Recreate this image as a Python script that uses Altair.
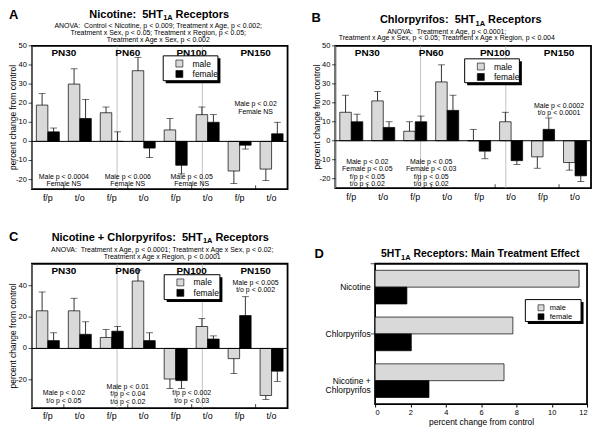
import altair as alt
import pandas as pd

sections = ["PN30", "PN60", "PN100", "PN150"]
regions = ["f/p", "t/o"]
sexes = ["male", "female"]
treatments = ["Nicotine", "Chlorpyrifos", "Nicotine + Chlorpyrifos"]

# order: PN30 f/p, PN30 t/o, PN60 f/p, PN60 t/o, PN100 f/p, PN100 t/o, PN150 f/p, PN150 t/o
a_male = [19, 30, 15, 37, 6, 14, -15.5, -14.5]
a_male_err = [6, 8, 3, 7, 6, 4, 6.5, 6]
a_female = [5, 12, 0, -3.5, -12.5, 10, -2, 4]
a_female_err = [2, 10, 5, 5, 4.5, 4, 2, 6]

b_male = [15, 21, 5, 31, 0, 10, -8.5, -11.5]
b_male_err = [9, 5, 5, 9, 6, 5, 6, 4]
b_female = [10, 7, 10, 16, -5.5, -10.5, 6, -18.5]
b_female_err = [4, 3, 3, 8, 4, 2, 6, 3]

c_male = [24, 24, 7, 43, -19.5, 14, -6.5, -30]
c_male_err = [12, 8, 5, 7, 6, 5, 9.5, 2.5]
c_female = [5, 9, 11, 5, -20.5, 6, 21, -14.5]
c_female_err = [5, 8, 3, 5, 5, 2, 12, 6.5]

d_male = [11.55, 7.8, 7.3]
d_female = [1.8, 2.05, 3.05]

ab_yticks = [-20, -10, 0, 10, 20, 30, 40, 50]
c_yticks = [-20, 0, 20, 40]
d_xticks = [0, 2, 4, 6, 8, 10, 12]

a_notes = [("PN30", "Male p < 0.0004\nFemale NS", -16.5),
           ("PN60", "Male p < 0.006\nFemale NS", -16.5),
           ("PN100", "Male p < 0.05\nFemale NS", -16.5),
           ("PN150", "Male p < 0.02\nFemale NS", 21.5)]
b_notes = [("PN30", "Male p < 0.02\nFemale p < 0.05\nf/p p < 0.05\nt/o p < 0.02", -9),
           ("PN60", "Male p < 0.05\nFemale p < 0.03\nf/p p < 0.05\nt/o p < 0.02", -9),
           ("PN150", "Male p < 0.0002\nt/o p < 0.0001", 20.5)]
c_notes = [("PN30", "Male p < 0.02\nt/o p < 0.05", -26),
           ("PN60", "Male p < 0.01\nf/p p < 0.04\nt/o p < 0.02", -21.8),
           ("PN100", "f/p p < 0.002\nt/o p < 0.03", -26),
           ("PN150", "Male p < 0.005\nt/o p < 0.002", 44.5)]

NB = "\u00a0"
a_anova = ["ANOVA:" + NB + NB + "Control < Nicotine, p < 0.009; Treatment x Age, p < 0.002;",
           "Treatment x Sex, p < 0.05; Treatment x Region, p < 0.05;",
           "Treatment x Age x Sex, p < 0.002"]
b_anova = ["ANOVA:" + NB + NB + "Treatment x Age, p < 0.0001;",
           "Treatment x Age x Sex, p < 0.05; Treatment x Age x Region, p < 0.004"]
c_anova = ["ANOVA:" + NB + NB + "Treatment x Age, p < 0.0001; Treatment x Age x Sex, p < 0.02;",
           "Treatment x Age x Region, p < 0.0001"]

FONT = "Liberation Sans"
MALE_FILL = "#d9d9d9"
YT = "percent change from control"
SUB_GAP = 3.2

BOLD = {" ": 278, NB: 278, "+": 584, ":": 333, "1": 556, "5": 556, "A": 722, "C": 722,
        "E": 667, "H": 722, "M": 833, "N": 722, "R": 722, "T": 611, "a": 556, "c": 556,
        "e": 556, "f": 333, "h": 611, "i": 278, "l": 278, "m": 889, "n": 611, "o": 611,
        "p": 611, "r": 389, "s": 556, "t": 333, "y": 556}


def bold_w(s, size):
    return sum(BOLD.get(ch, 600) for ch in s) * size / 1000.0


ONE = pd.DataFrame({"k": [0]})


def txt(text, x, y, size, bold=False, align="center", baseline="alphabetic", angle=0):
    return alt.Chart(ONE).mark_text(
        text=text, fontSize=size, fontWeight="bold" if bold else "normal",
        align=align, baseline=baseline, color="black", font=FONT, angle=angle
    ).encode(x=alt.value(x), y=alt.value(y))


def title_parts(cx, base_y, main, rest, size, sub_size=7.5):
    w1 = bold_w(main, size)
    w2 = bold_w("1A", sub_size)
    w3 = bold_w(rest, size)
    total = w1 + w2 + SUB_GAP + w3
    xa = cx - total / 2 + w1
    return [txt(main, xa, base_y, size, True, "right"),
            txt("1A", xa + 0.3, base_y + 2.5, sub_size, True, "left"),
            txt(rest, xa + w2 + SUB_GAP, base_y, size, True, "left")]


def fill_enc(lx, ly, small=False):
    if small:
        extra = dict(legendX=lx + 12, legendY=ly + 4.5, padding=0, symbolSize=36,
                     labelFontSize=7.5, labelOffset=5, rowPadding=0)
    else:
        extra = dict(legendX=lx + 12, legendY=ly + 3.5, padding=0, symbolSize=49,
                     labelFontSize=8.5, labelOffset=9, rowPadding=0.5)
    return alt.Fill("sex:N", sort=sexes,
                    scale=alt.Scale(domain=sexes, range=[MALE_FILL, "black"]),
                    legend=alt.Legend(title=None, orient="none", symbolType="square",
                                      symbolStrokeColor="black", symbolStrokeWidth=0.6,
                                      labelFont=FONT, labelColor="black", **extra))


def legend_box(lx, ly, lw, lh):
    sh = alt.Chart(ONE).mark_rect(color="black").encode(
        x=alt.value(lx + 2.5), x2=alt.value(lx + 2.5 + lw),
        y=alt.value(ly + 2.5), y2=alt.value(ly + 2.5 + lh))
    bx = alt.Chart(ONE).mark_rect(fill="white", stroke="black", strokeWidth=1).encode(
        x=alt.value(lx), x2=alt.value(lx + lw), y=alt.value(ly), y2=alt.value(ly + lh))
    return [sh, bx]


def bar_frame(male, male_err, female, female_err):
    rows = []
    i = 0
    for s in sections:
        for r in regions:
            for sex, vals, errs in (("male", male, male_err), ("female", female, female_err)):
                v = vals[i]
                e = errs[i]
                end = v + e if v >= 0 else v - e
                rows.append(dict(group=f"{s}|{r}", section=s, sex=sex, value=v, err_end=end))
            i += 1
    return pd.DataFrame(rows)


def panel(male, male_err, female, female_err, ydom, yvals, w, h, notes, leg,
          letter, letter_xy, title_main, title_xy, anova, anova_x, anova_y):
    df = bar_frame(male, male_err, female, female_err)
    groups = [f"{s}|{r}" for s in sections for r in regions]
    xenc = alt.X("group:N", sort=groups,
                 scale=alt.Scale(paddingInner=0.28, paddingOuter=0.14),
                 axis=alt.Axis(title=None, labelExpr="split(datum.label, '|')[1]",
                               labelAngle=0, ticks=False, domain=False,
                               labelFontSize=9, labelPadding=4))
    xoff = alt.XOffset("sex:N", sort=sexes)
    yscale = alt.Scale(domain=ydom, nice=False, zero=False)
    base = alt.Chart(df)
    bars = base.mark_bar(stroke="black", strokeWidth=0.7).encode(
        x=xenc, xOffset=xoff, y=alt.Y("value:Q", scale=yscale, axis=None),
        fill=fill_enc(leg[0], leg[1]))
    whisk = base.mark_rule(color="black", strokeWidth=0.8).encode(
        x=xenc, xOffset=xoff, y=alt.Y("value:Q", axis=None), y2="err_end:Q")
    caps = base.mark_tick(color="black", thickness=0.8, size=7).encode(
        x=xenc, xOffset=xoff, y=alt.Y("err_end:Q", axis=None))
    zero = alt.Chart(ONE).mark_rule(color="black", strokeWidth=1).encode(
        y=alt.datum(0, type="quantitative", axis=None))
    # y axis: tick labels and ticks placed through the y scale
    ytick_df = pd.DataFrame({"tick": yvals, "label": [str(v) for v in yvals]})
    ylabels = alt.Chart(ytick_df).mark_text(align="right", baseline="middle", fontSize=7.5,
                                            color="black", font=FONT).encode(
        x=alt.value(-5), y=alt.Y("tick:Q", axis=None), text="label:N")
    ytickmarks = alt.Chart(ytick_df).mark_tick(orient="horizontal", size=3.5, thickness=1,
                                               color="black").encode(
        x=alt.value(-1.6), y=alt.Y("tick:Q", axis=None))
    data_layer = alt.layer(bars, whisk, caps, zero, ylabels, ytickmarks)

    sec_df = pd.DataFrame({"section": sections})
    sec_x = alt.X("section:N", sort=sections,
                  scale=alt.Scale(paddingInner=0, paddingOuter=0), axis=None)
    dividers = alt.Chart(sec_df).transform_filter(
        alt.datum.section != sections[0]).mark_rule(color="#b5b5b5", strokeWidth=0.8).encode(
        x=alt.X("section:N", sort=sections, bandPosition=0,
                scale=alt.Scale(paddingInner=0, paddingOuter=0), axis=None))
    heads = alt.Chart(sec_df).mark_text(fontSize=10, fontWeight="bold", baseline="middle",
                                        color="black", font=FONT).encode(
        x=sec_x, y=alt.value(7), text="section:N")
    xticks = alt.Chart(sec_df).mark_tick(orient="vertical", size=4, thickness=1,
                                         color="black").encode(
        x=sec_x, y=alt.value(h - 2))
    note_df = pd.DataFrame(notes, columns=["section", "label", "ytop"])
    note_txt = alt.Chart(note_df).mark_text(fontSize=7, baseline="top", lineBreak="\n",
                                            lineHeight=7.5, color="black", font=FONT).encode(
        x=sec_x, y=alt.Y("ytop:Q", axis=None), text="label:N")
    deco = alt.layer(heads, xticks, note_txt)

    extras = legend_box(*leg)
    extras.append(txt(letter, letter_xy[0], letter_xy[1], 13, True, "left", "middle"))
    extras += title_parts(title_xy[0], title_xy[1], title_main, "Receptors", 11)
    for k, line in enumerate(anova):
        extras.append(txt(line, anova_x, anova_y[k], 7, False, "center", "middle"))
    extras.append(txt(YT, -18.5, h / 2, 8.5, False, "center", "middle", angle=270))

    return alt.layer(dividers, data_layer, deco, *extras).resolve_scale(
        x="independent").properties(width=w, height=h)


A = panel(a_male, a_male_err, a_female, a_female_err, [-25, 50], ab_yticks,
          257, 144, a_notes, (132, 10, 55, 25), "A", (-23, -31.5),
          "Nicotine:" + NB + NB + "5HT", (128, -28.5), a_anova, 127, [-20, -13, -6])
B = panel(b_male, b_male_err, b_female, b_female_err, [-25, 50], ab_yticks,
          257, 143, b_notes, (130, 13, 55, 24), "B", (-24, -28),
          "Chlorpyrifos:" + NB + NB + "5HT", (126, -22.5), b_anova, 112, [-14, -8])
C = panel(c_male, c_male_err, c_female, c_female_err, [-38, 54], c_yticks,
          257, 145, c_notes, (133, 11, 56, 25), "C", (-23, -27),
          "Nicotine + Chlorpyrifos:" + NB + NB + "5HT", (129, -23), c_anova, 131, [-14, -7])

# Panel D
d_df = pd.DataFrame([dict(treatment=t, sex=s, value=v)
                     for t, m, f in zip(treatments, d_male, d_female)
                     for s, v in (("male", m), ("female", f))])
d_bars = alt.Chart(d_df).mark_bar(stroke="black", strokeWidth=0.7).encode(
    y=alt.Y("treatment:N", sort=treatments,
            scale=alt.Scale(paddingInner=0.28, paddingOuter=0.14),
            axis=alt.Axis(title=None, ticks=False, domain=False, labelFontSize=8.5,
                          labelPadding=5, labelLineHeight=9,
                          labelExpr="datum.value == 'Nicotine + Chlorpyrifos' ? ['Nicotine +', 'Chlorpyrifos'] : datum.label")),
    yOffset=alt.YOffset("sex:N", sort=sexes),
    x=alt.X("value:Q", scale=alt.Scale(domain=[0, 12], nice=False),
            axis=alt.Axis(values=d_xticks, title=YT, titleFontSize=8.5,
                          titleFontWeight="normal", labelFontSize=7.5, tickSize=3,
                          domain=False, titlePadding=1, grid=False)),
    fill=fill_enc(151, 36, small=True))
d_sep = alt.Chart(pd.DataFrame({"treatment": treatments})).transform_filter(
    alt.datum.treatment != treatments[0]).mark_tick(
    orient="horizontal", size=4, thickness=1, color="black").encode(
    y=alt.Y("treatment:N", sort=treatments, bandPosition=0,
            scale=alt.Scale(paddingInner=0, paddingOuter=0), axis=None),
    x=alt.value(-2.5))
d_extras = legend_box(151, 36, 56, 22)
d_extras.append(txt("D", -61, -10, 13, True, "left", "middle"))
d_w = bold_w("5HT", 10.5)
d_wsub = bold_w("1A", 7.5)
d_rest = "Receptors: Main Treatment Effect"
d_wrest = bold_w(d_rest, 10.5)
d_xa = 106 - (d_w + d_wsub + SUB_GAP + d_wrest) / 2 + d_w
d_extras += [txt("5HT", d_xa, -6.5, 10.5, True, "right"),
             txt("1A", d_xa + 0.3, -4, 7.5, True, "left"),
             txt(d_rest, d_xa + d_wsub + SUB_GAP, -6.5, 10.5, True, "left")]
D = alt.layer(d_bars, d_sep, *d_extras).resolve_scale(y="independent").properties(
    width=213, height=141)

row1 = alt.hconcat(A, B, spacing=48, bounds="flush").resolve_scale(fill="independent").resolve_legend(fill="independent")
row2 = alt.hconcat(C, D, spacing=88, bounds="flush").resolve_scale(fill="independent").resolve_legend(fill="independent")

chart = alt.vconcat(row1, row2, spacing=27).resolve_scale(
    fill="independent").resolve_legend(fill="independent").properties(
    padding={"left": 0, "top": -2, "right": 0, "bottom": 0}
).configure(font=FONT).configure_view(stroke="black", strokeWidth=1.8).configure_axis(
    labelColor="black", titleColor="black", tickColor="black", labelFont=FONT,
    titleFont=FONT, grid=False)

chart.save("out.html", embed_options={"renderer": "svg", "actions": False})
